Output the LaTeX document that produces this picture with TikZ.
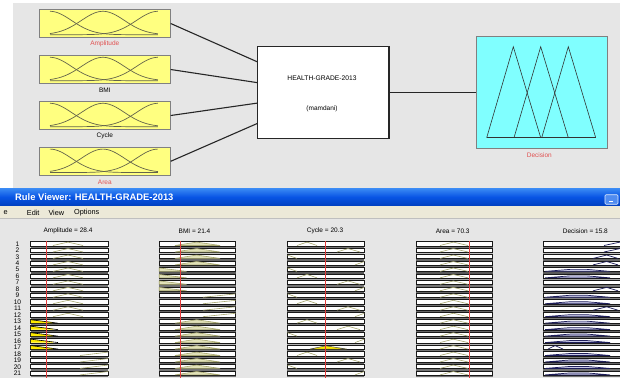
\documentclass[tikz,border=0pt]{standalone}
\usepackage{fontspec}
\setmainfont{Liberation Sans}
\usetikzlibrary{calc}

\definecolor{panel}{RGB}{230,230,230}
\definecolor{inyel}{RGB}{255,255,128}
\definecolor{outcyan}{RGB}{128,255,255}
\definecolor{lblred}{RGB}{225,80,80}
\definecolor{mfdark}{RGB}{100,100,75}
\definecolor{barhi}{RGB}{60,140,245}
\definecolor{barmid}{RGB}{8,84,228}
\definecolor{barlo}{RGB}{0,64,190}
\definecolor{btnblue}{RGB}{80,140,240}
\definecolor{menucol}{RGB}{236,233,216}
\definecolor{ruleol}{RGB}{165,165,110}
\definecolor{olivefill}{RGB}{225,225,185}
\definecolor{fireyel}{RGB}{255,235,0}
\definecolor{navy}{RGB}{30,30,90}
\definecolor{decfill}{RGB}{200,200,230}
\definecolor{cursorred}{RGB}{225,60,60}

\begin{document}
\begin{tikzpicture}[x=1pt,y=-1pt,
  inbox/.style={draw=black!50,line width=0.8pt,fill=inyel,minimum width=131.7pt,minimum height=28.4pt,inner sep=0pt,outer sep=0pt},
  fisbox/.style={draw=black!85,line width=1.1pt,fill=white,minimum width=131.3pt,minimum height=91.6pt,inner sep=0pt,outer sep=0pt},
  outbox/.style={draw=black!50,line width=0.8pt,fill=outcyan,minimum width=131.3pt,minimum height=111.6pt,inner sep=0pt,outer sep=0pt},
  lbl/.style={font=\fontsize{6.5}{7}\selectfont,inner sep=0pt},
  conn/.style={draw=black!85,line width=1.1pt},
  mfcurve/.style={draw=mfdark,line width=0.7pt},
  tri/.style={draw=black!80,line width=0.6pt},
  rowbox/.style={draw=black!90,line width=0.5pt,fill=white},
  ruleline/.style={draw=ruleol,line width=0.6pt},
  decline/.style={draw=navy,line width=0.7pt},
  rulenum/.style={font=\fontsize{6.6}{6}\selectfont,inner sep=0pt},
  hdr/.style={font=\fontsize{6.5}{7}\selectfont,inner sep=0pt},
  menuitem/.style={font=\fontsize{7.3}{8}\selectfont,inner sep=0pt,anchor=west},
  cursorline/.style={draw=cursorred,line width=1pt}]

\useasboundingbox (0,0) rectangle (620,378);
\clip (0,0) rectangle (620,378);

% ---------- FIS editor panel ----------
\fill[white] (0,0) rectangle (620,378);
\fill[panel] (13,3) rectangle (620,188);

% input variables
\node[inbox] (amp)  at (104.85,23.5) {};
\node[inbox] (bmi)  at (104.85,69.5) {};
\node[inbox] (cyc)  at (104.85,115.5) {};
\node[inbox] (area) at (104.85,161.3) {};

\foreach \cy in {23.5,69.5,115.5,161.3}{
  \foreach \c in {0,0.49,1}{
    \draw[mfcurve] plot[domain=0:1,samples=50,smooth]
      ({50+108*\x},{\cy+11.2-23.4*exp(-(\x-\c)*(\x-\c)/0.08)});
  }
}

\node[lbl,text=lblred] (amplbl)  at (104.85,44) {Amplitude};
\node[lbl]             (bmilbl)  at (104.85,90) {BMI};
\node[lbl]             (cyclbl)  at (104.85,136) {Cycle};
\node[lbl,text=lblred] (arealbl) at (104.85,182) {Area};

% rule base
\node[fisbox] (fis) at (323.35,92.5) {};
\node[lbl,font=\fontsize{6.7}{7}\selectfont] (fisname) at (322,77.7) {HEALTH-GRADE-2013};
\node[lbl] (fistype) at (322,108.7) {(mamdani)};

% output variable
\node[outbox] (dec) at (541.65,92.5) {};
\draw[tri] (486.7,137.7) -- (513.3,46.7) -- (540.7,137.7);
\draw[tri] (514,137.7) -- (540.7,46.7) -- (568.3,137.7);
\draw[tri] (541.7,137.7) -- (568.3,46.7) -- (595.7,137.7);
\draw[tri] (486.7,137.7) -- (595.7,137.7);
\node[lbl,text=lblred] (declbl) at (539.3,155) {Decision};

% connectors
\draw[conn] (amp.east)  -- ($(fis.north west)!0.167!(fis.south west)$);
\draw[conn] (bmi.east)  -- ($(fis.north west)!0.393!(fis.south west)$);
\draw[conn] (cyc.east)  -- ($(fis.north west)!0.615!(fis.south west)$);
\draw[conn] (area.east) -- ($(fis.north west)!0.836!(fis.south west)$);
\draw[conn] (fis.east) -- (dec.west);

% ---------- Rule viewer window ----------
\fill[panel] (0,206) rectangle (620,378);
\shade[top color=barhi,bottom color=barlo,middle color=barmid] (0,188) rectangle (620,206);
\node[anchor=west,text=white,font=\fontsize{9.4}{10}\selectfont\bfseries,inner sep=0pt] (title) at (15,197.3) {Rule Viewer: HEALTH-GRADE-2013};
\node[draw=white!85!btnblue,fill=btnblue,line width=0.6pt,minimum width=13pt,minimum height=9.5pt,inner sep=0pt,rounded corners=1pt] (minbtn) at (611.5,199.5) {};
\fill[white] (608.5,201.2) rectangle (612.5,202.4);

% menu bar
\fill[menucol] (0,206) rectangle (620,218);
\draw[black!25,line width=0.5pt] (0,218.3) -- (620,218.3);
\node[menuitem] (mfile) at (3.5,213) {e};
\node[menuitem] (medit) at (26.7,213) {Edit};
\node[menuitem] (mview) at (48.3,213) {View};
\node[menuitem] (mopts) at (74,213) {Options};

% column headings
\node[hdr] (hamp)  at (68,231) {Amplitude = 28.4};
\node[hdr] (hbmi)  at (194.5,231) {BMI = 21.4};
\node[hdr] (hcyc)  at (325,231) {Cycle = 20.3};
\node[hdr] (harea) at (452.7,231) {Area = 70.3};
\node[hdr] (hdec)  at (585.3,231) {Decision = 15.8};

% rule rows
\foreach \i/\g in {1/55,2/25,3/60,4/55,5/65,6/35,7/55,8/60,9/50,10/55,11/60,12/55,13/55,14/60,15/55,16/30,17/55,18/55,19/60,20/55,21/55}{
  \pgfmathsetmacro\t{241.5+(\i-1)*6.47}
  \foreach \xa/\xb in {30.7/108.3,159/235.7,287.3/364.3,416/492.7,543.3/630}{
    \fill[black!\g] (\xa,\t+4.3) rectangle (\xb,\t+6.47);
    \draw[rowbox] (\xa,\t) rectangle (\xb,\t+4.3);
  }
  \node[rulenum] (n\i) at (17.5,\t+2.3) {\i};
}

% Amplitude memberships
\foreach \i in {1,...,12}{
  \pgfmathsetmacro\t{241.5+(\i-1)*6.47}
  \draw[ruleline] (53,\t+4) -- (68,\t+0.6) -- (83,\t+4);
}
\foreach \i in {13,...,17}{
  \pgfmathsetmacro\t{241.5+(\i-1)*6.47}
  \fill[fireyel] (30.9,\t+0.6) -- (53,\t+3.2) -- (53,\t+4.1) -- (30.9,\t+4.1) -- cycle;
  \draw[black,line width=0.6pt] (30.9,\t+0.6) -- (58,\t+4);
}
\foreach \i in {18,...,21}{
  \pgfmathsetmacro\t{241.5+(\i-1)*6.47}
  \draw[ruleline] (80,\t+4) -- (108.3,\t+0.6);
}

% BMI memberships
\foreach \i in {1,2,3,4,13,14,15,16,17,18,19,20,21}{
  \pgfmathsetmacro\t{241.5+(\i-1)*6.47}
  \filldraw[ruleline,fill=olivefill] (175,\t+4) -- (196.7,\t+0.6) -- (220,\t+4) -- cycle;
}
\foreach \i in {5,...,8}{
  \pgfmathsetmacro\t{241.5+(\i-1)*6.47}
  \filldraw[ruleline,fill=olivefill] (159.2,\t+0.6) -- (186.7,\t+4) -- (159.2,\t+4) -- cycle;
}
\foreach \i in {9,...,12}{
  \pgfmathsetmacro\t{241.5+(\i-1)*6.47}
  \draw[ruleline] (203,\t+4) -- (235.7,\t+0.6);
}

% Cycle memberships
\foreach \i in {1,6,10,13,18}{
  \pgfmathsetmacro\t{241.5+(\i-1)*6.47}
  \draw[ruleline] (297,\t+4) -- (307,\t+0.6) -- (317,\t+4);
}
\foreach \i in {2,7,11,14,19}{
  \pgfmathsetmacro\t{241.5+(\i-1)*6.47}
  \draw[ruleline] (337,\t+4) -- (348,\t+0.6) -- (360,\t+4);
}
\foreach \i in {3,5,9,15,20}{
  \pgfmathsetmacro\t{241.5+(\i-1)*6.47}
  \draw[ruleline] (287.5,\t+0.6) -- (297,\t+4);
}
\foreach \i in {4,8,12,16,21}{
  \pgfmathsetmacro\t{241.5+(\i-1)*6.47}
  \draw[ruleline] (355,\t+4) -- (364.3,\t+0.6);
}
\pgfmathsetmacro\t{241.5+16*6.47}
\filldraw[fill=fireyel,draw=black!70,line width=0.5pt] (310,\t+4) -- (326,\t+0.8) -- (346.7,\t+4) -- cycle;

% Area memberships
\foreach \i in {1,...,21}{
  \pgfmathsetmacro\t{241.5+(\i-1)*6.47}
  \draw[ruleline] (440,\t+4) -- (453.3,\t+0.6) -- (468,\t+4);
}

% Decision memberships
\foreach \i in {1,2}{
  \pgfmathsetmacro\t{241.5+(\i-1)*6.47}
  \draw[decline] (604,\t+4) -- (620,\t+0.6);
}
\foreach \i in {3,4,8,11}{
  \pgfmathsetmacro\t{241.5+(\i-1)*6.47}
  \draw[decline] (593,\t+4) -- (606.7,\t+0.6) -- (618,\t+4);
}
\foreach \i in {5,6,9,10,12,13,14,15,16,18,19,20,21}{
  \pgfmathsetmacro\t{241.5+(\i-1)*6.47}
  \filldraw[decline,fill=decfill] (545,\t+4) -- (570,\t+2) -- (587,\t+2) -- (610,\t+4) -- cycle;
}
\pgfmathsetmacro\t{241.5+16*6.47}
\draw[decline] (548,\t+4) -- (555,\t+0.6) -- (563,\t+4);

% input cursors
\draw[cursorline] (46.5,241) -- (46.5,378);
\draw[cursorline] (180.5,241) -- (180.5,378);
\draw[cursorline] (325.5,241) -- (325.5,378);
\draw[cursorline] (469.5,241) -- (469.5,378);

\end{tikzpicture}
\end{document}
